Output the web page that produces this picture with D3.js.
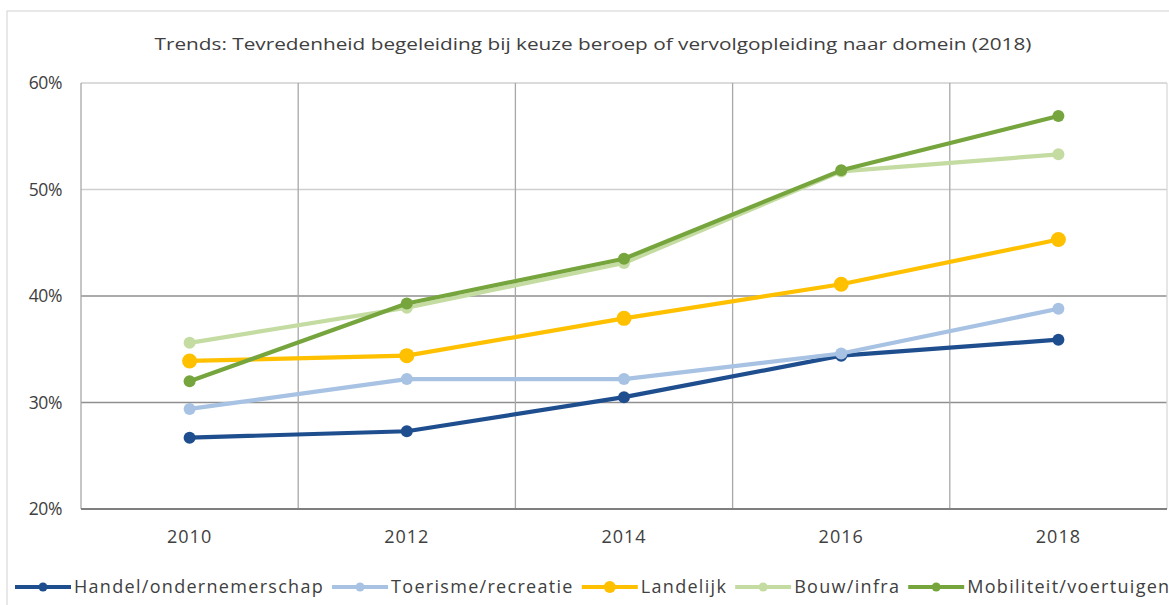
<!DOCTYPE html>
<html>
<head>
<meta charset="utf-8">
<script src="https://cdn.jsdelivr.net/npm/d3@7"></script>
<style>
  html, body { margin: 0; padding: 0; background: #fff; }
  svg { display: block; }
  text { font-family: "Open Sans", "Noto Sans", sans-serif; fill: #404040; }
</style>
</head>
<body>
<svg id="chart" width="1169" height="605"></svg>
<script>
const title = "Trends: Tevredenheid begeleiding bij keuze beroep of vervolgopleiding naar domein (2018)";
const years = ["2010", "2012", "2014", "2016", "2018"];
const yTicks = [0.2, 0.3, 0.4, 0.5, 0.6];
const seriesNames = ["Handel/ondernemerschap", "Toerisme/recreatie", "Landelijk", "Bouw/infra", "Mobiliteit/voertuigen"];
const handel     = [0.267, 0.273, 0.305, 0.344, 0.359];
const toerisme   = [0.294, 0.322, 0.322, 0.346, 0.388];
const landelijk  = [0.339, 0.344, 0.379, 0.411, 0.453];
const bouw       = [0.356, 0.389, 0.431, 0.517, 0.533];
const mobiliteit = [0.320, 0.393, 0.435, 0.518, 0.569];
const seriesValues = [handel, toerisme, landelijk, bouw, mobiliteit];
const colors = ["#1F4E8F", "#A7C2E2", "#FFC000", "#C4DCA2", "#76A53E"];
const radii = [6, 6, 7.5, 6, 6];

const svg = d3.select("#chart");
const W = 1169, H = 605;
const plot = { left: 81, right: 1167, top: 83, bottom: 509 };

// outer frame
svg.append("rect").attr("x", 7).attr("y", 11).attr("width", W + 10).attr("height", H + 10)
  .attr("fill", "none").attr("stroke", "#d9d9d9").attr("stroke-width", 1.2);

const x = d3.scaleBand().domain(years).range([plot.left, plot.right]).padding(0);
const y = d3.scaleLinear().domain([0.2, 0.6]).range([plot.bottom, plot.top]);

// horizontal gridlines
svg.append("g").selectAll("line").data(yTicks.filter(t => t > 0.2)).join("line")
  .attr("x1", plot.left).attr("x2", plot.right)
  .attr("y1", d => y(d)).attr("y2", d => y(d))
  .attr("stroke", d => d >= 0.5 ? "#cfcfcf" : "#8f8f8f").attr("stroke-width", 1.3);

// vertical gridlines at band boundaries
const bounds = years.map(yr => x(yr)).concat([plot.right]);
svg.append("g").selectAll("line").data(bounds).join("line")
  .attr("x1", d => d).attr("x2", d => d)
  .attr("y1", plot.top).attr("y2", plot.bottom)
  .attr("stroke", (d, i) => i === bounds.length - 1 ? "#d9d9d9" : "#a8a8a8").attr("stroke-width", 1.3);

// bottom axis line
svg.append("line").attr("x1", plot.left).attr("x2", plot.right)
  .attr("y1", plot.bottom).attr("y2", plot.bottom)
  .attr("stroke", "#7f7f7f").attr("stroke-width", 2);

// y labels
const fmt = d3.format(".0%");
svg.append("g").selectAll("text").data(yTicks).join("text")
  .attr("x", 62).attr("y", d => y(d)).attr("dy", "0.35em")
  .attr("text-anchor", "end").attr("font-size", 17.5).attr("letter-spacing", -0.4)
  .text(d => fmt(d));

// x labels
svg.append("g").selectAll("text").data(years).join("text")
  .attr("x", d => x(d) + x.bandwidth() / 2).attr("y", 537).attr("dy", "0.35em")
  .attr("text-anchor", "middle").attr("font-size", 18).attr("letter-spacing", 1)
  .text(d => d);

// title
const t = svg.append("text").attr("x", 593).attr("y", 44).attr("dy", "0.35em")
  .attr("text-anchor", "middle").attr("font-size", 16.5).text(title);
t.attr("textLength", 877).attr("lengthAdjust", "spacingAndGlyphs");

// lines and points
const line = d3.line().x((d, i) => x(years[i]) + x.bandwidth() / 2).y(d => y(d));
seriesValues.forEach((vals, si) => {
  const g = svg.append("g");
  g.append("path").datum(vals).attr("d", line)
    .attr("fill", "none").attr("stroke", colors[si]).attr("stroke-width", 4.2)
    .attr("stroke-linejoin", "round").attr("stroke-linecap", "round");
  g.selectAll("circle").data(vals).join("circle")
    .attr("cx", (d, i) => x(years[i]) + x.bandwidth() / 2).attr("cy", d => y(d))
    .attr("r", radii[si]).attr("fill", colors[si]);
});

// legend
const legY = 587;
let lx = 15;
seriesNames.forEach((name, si) => {
  const g = svg.append("g");
  g.append("line").attr("x1", lx).attr("x2", lx + 56).attr("y1", legY).attr("y2", legY)
    .attr("stroke", colors[si]).attr("stroke-width", 4);
  g.append("circle").attr("cx", lx + 28).attr("cy", legY).attr("r", radii[si] - 1.5).attr("fill", colors[si]);
  const tt = g.append("text").attr("x", lx + 59).attr("y", legY).attr("dy", "0.35em")
    .attr("font-size", 18).attr("letter-spacing", 1.3).text(name);
  const w = tt.node().getComputedTextLength();
  lx = lx + 59 + w + 8;
});
</script>
</body>
</html>
